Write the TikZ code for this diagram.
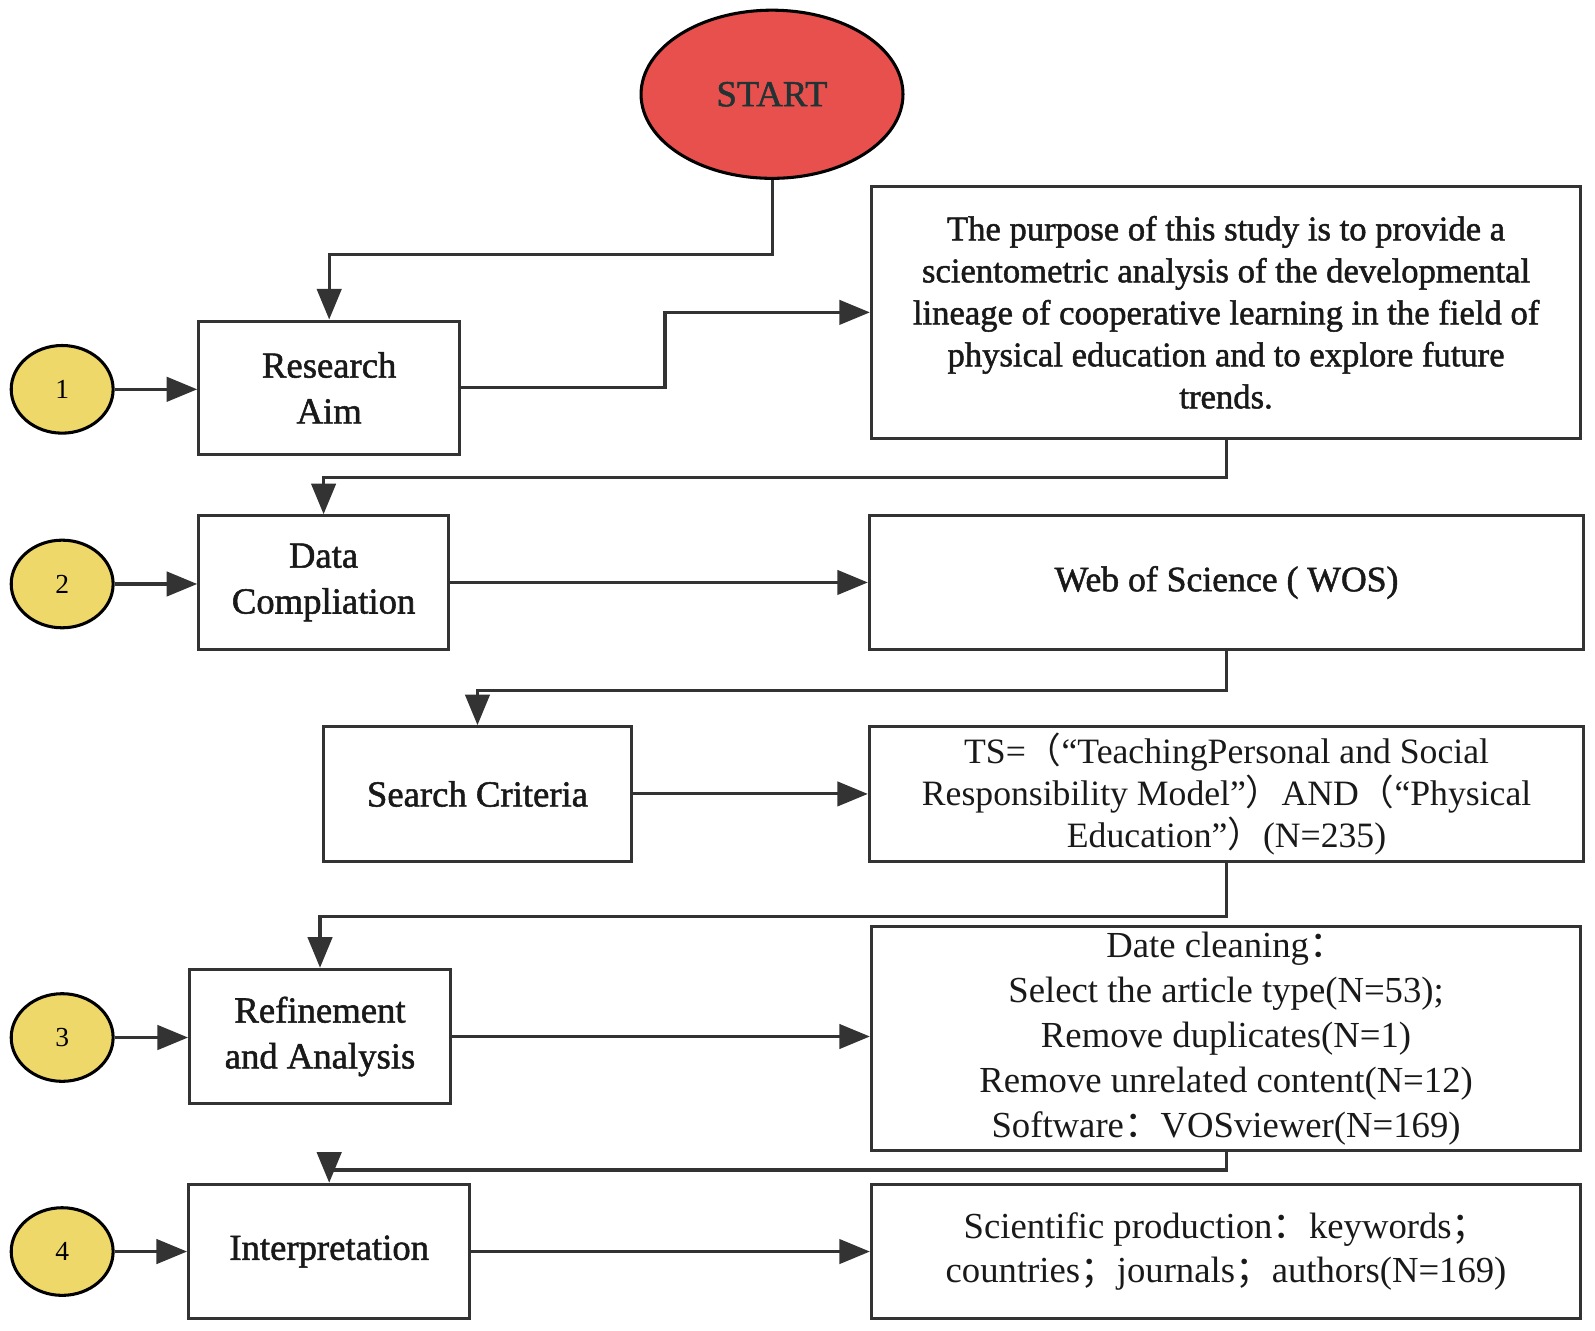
\documentclass[tikz,border=0pt]{standalone}
\usepackage{fontspec}
\setmainfont{Liberation Serif}
\newfontface\semib{Liberation Serif}[FakeBold=1.4]
\newfontfamily\cjk{Noto Sans CJK SC}
\usetikzlibrary{arrows.meta,shapes.geometric}
\definecolor{startred}{HTML}{E8504E}
\definecolor{numyellow}{HTML}{EED86A}
\definecolor{linegray}{HTML}{333333}
\definecolor{starttext}{HTML}{223333}
\newcommand{\fw}[1]{{\cjk #1}}
\tikzset{
  boxnode/.style={draw=linegray, line width=3pt, fill=white, rectangle, inner sep=0pt, align=center, text=black!90},
  lefttext/.style={font=\semib\fontsize{36}{45}\selectfont},
  righttext/.style={font=\fontsize{36}{44}\selectfont},
  numnode/.style={draw=black, line width=3pt, fill=numyellow, ellipse, inner sep=0pt, minimum width=100pt, minimum height=86pt, font=\fontsize{27}{30}\selectfont},
  arr/.style={draw=linegray, line width=3pt, -{Triangle[length=30pt,width=24pt,fill=linegray]}},
}
\begin{document}
\begin{tikzpicture}[x=1pt,y=-1pt]
\useasboundingbox (0,0) rectangle (1565,1305);
% start
\node[draw=black, line width=3pt, fill=startred, ellipse, inner sep=0pt, minimum width=257pt, minimum height=165pt, text=starttext, font=\semib\fontsize{36}{40}\selectfont] (start) at (757.5,92.5) {START};
% numbers
\node[numnode] (n1) at (61,382) {1};
\node[numnode] (n2) at (61,573) {2};
\node[numnode] (n3) at (61,1018) {3};
\node[numnode] (n4) at (61,1228) {4};
% left boxes
\node[boxnode, lefttext, minimum width=256pt, minimum height=131pt] (ra) at (323,380.5) {Research\\Aim};
\node[boxnode, lefttext, minimum width=245pt, minimum height=131pt] (data) at (317.5,571.5) {Data\\Compliation};
\node[boxnode, lefttext, minimum width=303pt, minimum height=132pt] (search) at (468.5,779) {Search Criteria};
\node[boxnode, lefttext, minimum width=256pt, minimum height=132pt] (ref) at (314,1017) {Refinement\\and Analysis};
\node[boxnode, lefttext, minimum width=276pt, minimum height=132pt] (interp) at (323,1228) {Interpretation};
% right boxes
\node[boxnode, font=\semib\fontsize{34}{41.2}\selectfont, minimum width=696pt, minimum height=247pt] (pur) at (1203,306.5) {The purpose of this study is to provide a\\scientometric analysis of the developmental\\lineage of cooperative learning in the field of\\physical education and to explore future\\trends.};
\node[boxnode, font=\semib\fontsize{35}{44}\selectfont, minimum width=701pt, minimum height=131pt] (wos) at (1203.5,571.5) {Web of Science ( WOS)};
\node[boxnode, font=\fontsize{35}{41}\selectfont, minimum width=701pt, minimum height=132pt] (ts) at (1203.5,779) {TS=\fw{（}“TeachingPersonal and Social\\Responsibility Model”\fw{）}AND\fw{（}“Physical\\Education”\fw{）}(N=235)};
\node[boxnode, righttext, minimum width=696pt, minimum height=219pt] (clean) at (1203,1019) {Date cleaning\fw{：}\\Select the article type(N=53);\\Remove duplicates(N=1)\\Remove unrelated content(N=12)\\Software\fw{：}VOSviewer(N=169)};
\node[boxnode, righttext, minimum width=696pt, minimum height=132pt] (sci) at (1203,1228) {Scientific production\fw{：}keywords\fw{；}\\countries\fw{；}journals\fw{；}authors(N=169)};
% connectors
\draw[arr] (start.south) -- ++(0,73) -| (ra.north);
\draw[arr] (ra.east) -- ++(200,0) |- (pur.west);
\draw[arr] (pur.south) -- ++(0,37) -| (data.north);
\draw[arr] (data.east) -- (wos.west);
\draw[arr] (wos.south) -- ++(0,39) -| (search.north);
\draw[arr] (search.east) -- (ts.west);
\draw[arr] (ts.south) -- ++(0,53) -| (ref.north);
\draw[arr] (ref.east) -- (ref.east -| clean.west);
\draw[arr] (clean.south) -- ++(0,18) -| (interp.north);
\draw[arr] (interp.east) -- (sci.west);
\draw[arr] (n1.east) -- (n1.east -| ra.west);
\draw[arr] (n2.east) -- (n2.east -| data.west);
\draw[arr] (n3.east) -- (n3.east -| ref.west);
\draw[arr] (n4.east) -- (n4.east -| interp.west);
\end{tikzpicture}
\end{document}
